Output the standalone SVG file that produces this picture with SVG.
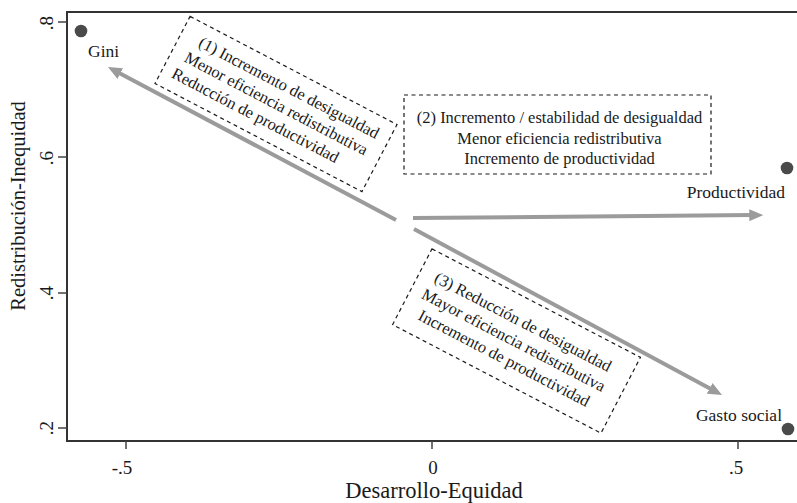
<svg xmlns="http://www.w3.org/2000/svg" width="797" height="503" viewBox="0 0 797 503">
<style>
text{font-family:"Liberation Serif","Times New Roman",serif;fill:#1a1a1a}
.axis{stroke:#333;stroke-width:2;fill:none}
.tick{stroke:#444;stroke-width:1.5}
.box{fill:none;stroke:#1a1a1a;stroke-width:1.2;stroke-dasharray:4 3.5}
.arrow{stroke:#9b9b9b;stroke-width:4;fill:none}
.dot{fill:#4a4a4a}
.bt{font-size:16.5px}
.lab{font-size:17.5px}
</style>
<defs>
<marker id="ah" viewBox="0 0 14 12" refX="4" refY="6" markerWidth="14" markerHeight="12" markerUnits="userSpaceOnUse" orient="auto">
<path d="M0,0 L14,6 L0,12 z" fill="#9b9b9b"/>
</marker>
</defs>
<rect width="797" height="503" fill="#fff"/>
<g id="axes">
<path class="axis" d="M797,12 H67 V441 H797"/>
<path class="tick" d="M58,22 H67 M58,157 H67 M58,293 H67 M58,428 H67 M126,441 V449 M432,441 V449 M738,441 V449"/>
<g font-size="19px" text-anchor="middle">
<text transform="translate(53,23) rotate(-90)">.8</text>
<text transform="translate(53,158) rotate(-90)">.6</text>
<text transform="translate(53,293) rotate(-90)">.4</text>
<text transform="translate(53,428) rotate(-90)">.2</text>
</g>
<g font-size="19px" text-anchor="middle">
<text x="122" y="474">-.5</text>
<text x="433" y="474">0</text>
<text x="736" y="474">.5</text>
</g>
<text transform="translate(25,206) rotate(-90)" font-size="20.5px" text-anchor="middle">Redistribución-Inequidad</text>
<text x="434" y="498" font-size="22.5px" text-anchor="middle">Desarrollo-Equidad</text>
</g>
<g id="connectors">
<line class="arrow" x1="396" y1="220" x2="116.8" y2="71.7" marker-end="url(#ah)"/>
<line class="arrow" x1="413" y1="218" x2="753.3" y2="215.1" marker-end="url(#ah)"/>
<line class="arrow" x1="414" y1="229" x2="713.2" y2="390.3" marker-end="url(#ah)"/>
</g>
<g id="gini">
<circle class="dot" cx="81" cy="31" r="6.3"/>
<text class="lab" x="88" y="57">Gini</text>
</g>
<g id="productividad">
<circle class="dot" cx="787" cy="168" r="6.3"/>
<text class="lab" x="785" y="198" text-anchor="end">Productividad</text>
</g>
<g id="gasto-social">
<circle class="dot" cx="788" cy="429" r="6.3"/>
<text class="lab" x="782" y="421" text-anchor="end">Gasto social</text>
</g>
<g id="box1" transform="translate(276,104) rotate(27.6)">
<rect class="box" x="-116.75" y="-37.85" width="233.5" height="75.7"/>
<g class="bt" text-anchor="middle">
<text x="4" y="-15">(1) Incremento de desigualdad</text>
<text x="0" y="5">Menor eficiencia redistributiva</text>
<text x="-13" y="25">Reducción de productividad</text>
</g>
</g>
<g id="box2">
<rect class="box" x="404" y="95" width="307" height="79"/>
<g class="bt" text-anchor="middle">
<text x="559.5" y="123">(2) Incremento / estabilidad de desigualdad</text>
<text x="559.5" y="144">Menor eficiencia redistributiva</text>
<text x="559.5" y="164">Incremento de productividad</text>
</g>
</g>
<g id="box3" transform="translate(516.5,341) rotate(27.5)">
<rect class="box" x="-117.5" y="-42.7" width="235" height="85.4"/>
<g class="bt" text-anchor="middle">
<text x="-3" y="-14.5">(3) Reducción de desigualdad</text>
<text x="-3" y="6">Mayor eficiencia redistributiva</text>
<text x="-3" y="26.5">Incremento de productividad</text>
</g>
</g>
</svg>
